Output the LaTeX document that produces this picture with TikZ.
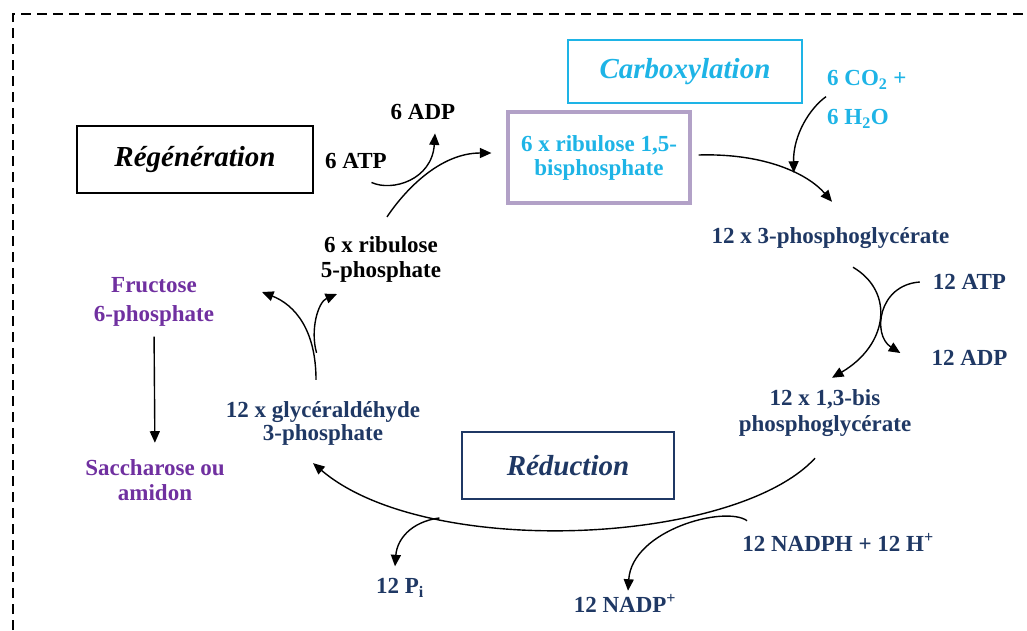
\documentclass[tikz,border=0pt]{standalone}
\usepackage{fontspec}
\setmainfont{Liberation Serif}
\definecolor{navy}{RGB}{31,56,100}
\definecolor{cyanlab}{RGB}{30,180,230}
\definecolor{sugar}{RGB}{112,48,160}
\definecolor{rubpframe}{RGB}{178,161,199}
\usepackage{tikz}
\usetikzlibrary{positioning,arrows.meta}

\begin{document}
\begin{tikzpicture}[x=1pt,y=-1pt,
            chem/.style={align=center, inner sep=1pt,
                font=\fontsize{23}{25}\selectfont\bfseries},
            phase/.style={
                rectangle, line width=2.2pt, inner sep=0pt,
                font=\fontsize{29}{32}\selectfont\bfseries\itshape
            },
            flow/.style={-{Triangle[length=11.5pt,width=10pt]}, line width=1.4pt},
        ]

            \useasboundingbox (0,0) rectangle (1027,630);
            \draw[line width=1.5pt, dash pattern=on 10pt off 6pt] (13,630) -- (13,14) -- (1027,14);

            % phases
            \node [phase, draw=black, minimum width=236pt, minimum height=67pt] (regen) at (195,159.5) {Régénération};
            \node [phase, draw=cyanlab, text=cyanlab, minimum width=234pt, minimum height=63pt] (carbox) at (685,71.5) {Carboxylation};
            \node [phase, draw=navy, text=navy, line width=1.8pt, minimum width=212pt, minimum height=67pt] (reduc) at (568,465.5) {Réduction};

            % molecules
            \node [chem, draw=rubpframe, text=cyanlab, line width=3.2pt, minimum width=182pt, minimum height=91pt,
                   font=\fontsize{23}{24}\selectfont\bfseries] (rubp) at (599,157.5) {6 x ribulose 1,5-\\bisphosphate};
            \node [chem] (atp6) at (356,161) {6 ATP};
            \node [chem] (adp6) at (423,112) {6 ADP};
            \node [chem] (ru5p) at (381,259) {6 x ribulose\\5-phosphate};
            \node [chem, text=cyanlab, anchor=west] (co2) at (826,80) {6 CO\textsubscript{2} +};
            \node [chem, text=cyanlab] (h2o) [ below= 39pt of co2.west, anchor=west ] {6 H\textsubscript{2}O};
            \node [chem, text=navy] (pga3) at (830.5,238) {12 x 3-phosphoglycérate};
            \node [chem, text=navy] (atp12) at (969.5,282) {12 ATP};
            \node [chem, text=navy] (adp12) [ on grid, below= 76pt of atp12 ] {12 ADP};
            \node [chem, text=navy, font=\fontsize{23}{26}\selectfont\bfseries] (bpg) at (825,413) {12 x 1,3-bis\\phosphoglycérate};
            \node [chem, text=navy] (nadph) at (838,542) {12 NADPH + 12 H\textsuperscript{+}};
            \node [chem, text=navy] (nadp) at (625,603) {12 NADP\textsuperscript{+}};
            \node [chem, text=navy] (pi) at (400,588) {12 P\textsubscript{i}};
            \node [chem, text=navy, font=\fontsize{23}{23}\selectfont\bfseries] (gap) at (323,423) {12 x glycéraldéhyde\\3-phosphate};
            \node [chem, text=sugar, font=\fontsize{23}{29}\selectfont\bfseries] (f6p) at (154,302) {Fructose\\6-phosphate};
            \node [chem, text=sugar] (sacch) at (155,480) {Saccharose ou\\amidon};

            \coordinate (toF6P) at (262,292);
            \coordinate (toRu5P) at (337,294);

            % carboxylation
            \draw[flow] ([xshift=7pt,yshift=2.5pt]rubp.east) .. controls (765,153) and (808,174) .. ([xshift=1.5pt,yshift=24.5pt]pga3.north)
                coordinate[pos=0.6] (carbIn);
            \draw[flow] ([yshift=-6pt]co2.south west) .. controls (810,108) and (793,135) .. (carbIn);

            % reduction
            \draw[flow] ([xshift=22.5pt,yshift=-17.5pt]pga3.south) .. controls (895,292) and (888,345) .. ([xshift=7pt,yshift=10.5pt]bpg.north);
            \draw[flow] ([xshift=-12pt]atp12.west) .. controls (878,285) and (872,335) .. ([xshift=-30pt,yshift=5pt]adp12.west);
            \draw[flow] ([xshift=-10pt,yshift=-20.5pt]bpg.south) .. controls (735,545) and (427,560) .. ([xshift=-10pt,yshift=-17pt]gap.south)
                coordinate[pos=0.73] (piFork);
            \draw[flow] (piFork) .. controls (410,522) and (397,540) .. ([xshift=-5pt,yshift=11pt]pi.north);
            \draw[flow] ([xshift=6pt,yshift=11pt]nadph.north west) .. controls (725,505) and (632,530) .. ([xshift=3pt,yshift=2pt]nadp.north);

            % regeneration
            \draw[flow] ([xshift=-7pt,yshift=20pt]gap.north) .. controls (316,330) and (295,305) .. (toF6P)
                coordinate[pos=0.2] (ruFork);
            \draw[flow] ([xshift=3pt]ruFork) .. controls (310,330) and (318,302) .. (toRu5P);
            \draw[flow, shorten <=9pt, shorten >=15.5pt] (f6p.south) -- (sacch.north);
            \draw[flow] ([xshift=6pt,yshift=18pt]ru5p.north) .. controls (405,190) and (440,153) .. ([xshift=-15pt,yshift=4.5pt]rubp.west);
            \draw[flow] ([xshift=-16.5pt,yshift=-12.5pt]atp6.south east) .. controls (392,192) and (432,180) .. ([xshift=12pt,yshift=-12.5pt]adp6.south);

        \end{tikzpicture}
\end{document}
